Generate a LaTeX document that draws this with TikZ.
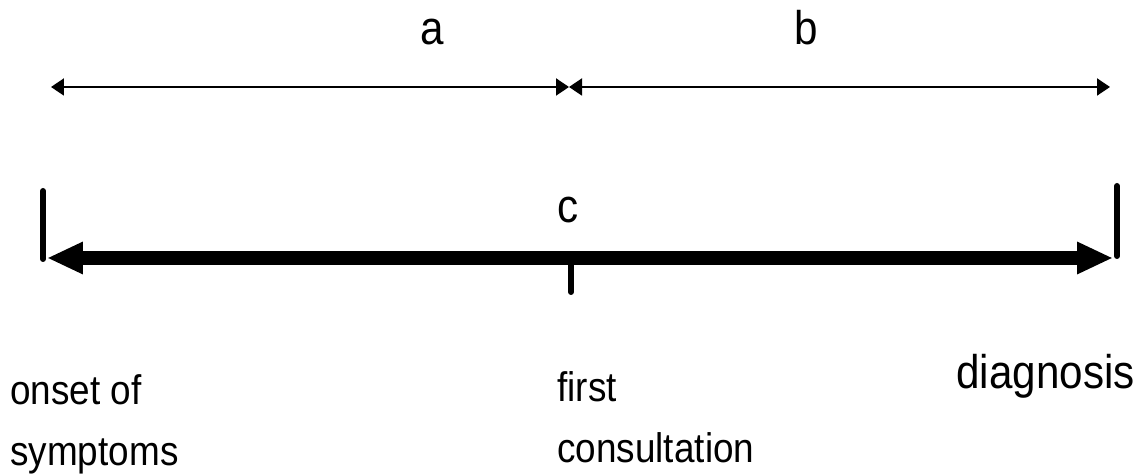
\documentclass[tikz,border=0pt]{standalone}
\usepackage{fontspec}
\setmainfont{Liberation Sans}
\usetikzlibrary{arrows.meta}
\newcommand\tallt[1]{\scalebox{1}[1.12]{#1}}
\begin{document}
\begin{tikzpicture}[x=0.02cm,y=-0.02cm,
  thin arrow/.style={line width=0.04cm,{Triangle[length=0.26cm,width=0.34cm]}-{Triangle[length=0.26cm,width=0.34cm]}},
  thick arrow/.style={line width=0.28cm,{Triangle[length=0.72cm,width=0.6cm]}-{Triangle[length=0.72cm,width=0.6cm]}},
  bar/.style={line width=0.12cm,line cap=round},
  lbl/.style={inner sep=0pt,font=\fontsize{21}{25}\selectfont},
  letter/.style={inner sep=0pt,font=\fontsize{24}{28}\selectfont}]
\useasboundingbox (0,0) rectangle (1141,475);
% thin arrows
\coordinate (aL) at (51,87);
\coordinate (mid) at (569,87);
\coordinate (bR) at (1110,87);
\draw[thin arrow] (aL) -- (mid);
\draw[thin arrow] (mid) -- (bR);
\node[letter,anchor=base] (a) at (432,45) {\tallt{a}};
\node[letter,anchor=base] (b) at (806,45) {\tallt{b}};
% thick arrow
\coordinate (cL) at (47,258);
\coordinate (cR) at (1113,258);
\draw[thick arrow] (cL) -- (cR);
\node[letter,anchor=base] (c) at (568,223) {\tallt{c}};
% bars
\coordinate (lb1) at (43,191);
\coordinate (lb2) at (43,259);
\coordinate (rb1) at (1117,186);
\coordinate (rb2) at (1117,256);
\coordinate (t1) at (571,262);
\coordinate (t2) at (571,292);
\draw[bar] (lb1) -- (lb2);
\draw[bar] (rb1) -- (rb2);
\draw[bar] (t1) -- (t2);
% labels
\node[lbl,anchor=base west] (onset) at (10,405) {\tallt{onset of}};
\node[lbl,anchor=base west] (sympt) at (10,465) {\tallt{symptoms}};
\node[lbl,anchor=base west] (first) at (557,402) {\tallt{first}};
\node[lbl,anchor=base west] (consult) at (557,462) {\tallt{consultation}};
\node[lbl,anchor=base east,font=\fontsize{24}{28}\selectfont] (diag) at (1135,389) {\tallt{diagnosis}};
\end{tikzpicture}
\end{document}
